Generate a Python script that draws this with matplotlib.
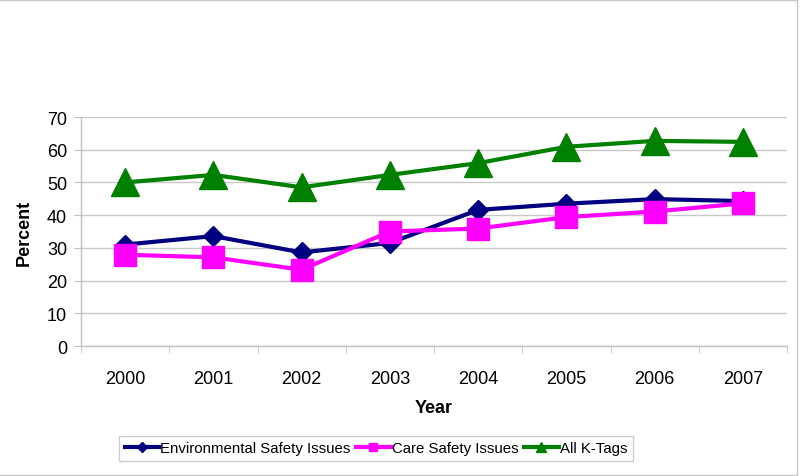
import matplotlib
matplotlib.use("Agg")
import matplotlib.pyplot as plt
from matplotlib.lines import Line2D
from matplotlib import font_manager
import numpy as np

plt.rcParams['font.family'] = ['Liberation Sans', 'DejaVu Sans']

years = ["2000", "2001", "2002", "2003", "2004", "2005", "2006", "2007"]
env_safety = [31.0, 33.6, 28.6, 31.5, 41.6, 43.5, 44.9, 44.3]
care_safety = [27.9, 27.1, 23.3, 35.0, 35.9, 39.4, 41.1, 43.6]
all_ktags = [50.0, 52.3, 48.5, 52.3, 55.9, 60.9, 62.7, 62.4]
yticks = [0, 10, 20, 30, 40, 50, 60, 70]

names = {f.name for f in font_manager.fontManager.ttflist}
legend_family = 'Liberation Sans Narrow' if 'Liberation Sans Narrow' in names else 'Liberation Sans'
legend_size = 12.5 if legend_family == 'Liberation Sans Narrow' else 10.8

fig = plt.figure(figsize=(8.0, 4.77), dpi=100)
ax = fig.add_axes([81/800, 1-347/477, (787-81)/800, (347-118)/477])

x = np.arange(len(years))
ax.plot(x, env_safety, color='#000080', lw=3, marker='D', ms=10.5, zorder=4,
        label='Environmental Safety Issues')
ax.plot(x, care_safety, color='#FF00FF', lw=3, marker='s', ms=16, zorder=5,
        label='Care Safety Issues')
ax.plot(x, all_ktags, color='#008000', lw=3, marker='^', ms=20, zorder=3,
        label='All K-Tags')

ax.set_xlim(-0.5, len(years)-0.5)
ax.set_ylim(0, 70)
ax.set_yticks(yticks)
ax.set_yticklabels([str(v) for v in yticks], fontsize=13)
ax.set_xticks(x)
ax.set_xticklabels(years, fontsize=13)
ax.set_xticks(np.arange(-0.5, len(years), 1.0), minor=True)
ax.tick_params(axis='x', which='major', length=0, pad=17)
ax.tick_params(axis='x', which='minor', length=5, color='#C0C0C0', direction='out')
ax.tick_params(axis='y', length=5, color='#C0C0C0', pad=5)

ax.grid(axis='y', color='#C8C8C8', lw=1)
ax.set_axisbelow(True)
for s in ['top', 'right']:
    ax.spines[s].set_visible(False)
for s in ['left', 'bottom']:
    ax.spines[s].set_color('#C0C0C0')
    ax.spines[s].set_linewidth(1)

ax.set_ylabel('Percent', fontsize=13, fontweight='bold', labelpad=10)
ax.set_xlabel('Year', fontsize=13, fontweight='bold', labelpad=9)

handles = [
    Line2D([], [], color='#000080', lw=3, marker='D', ms=5),
    Line2D([], [], color='#FF00FF', lw=3, marker='s', ms=6),
    Line2D([], [], color='#008000', lw=3, marker='^', ms=7),
]
labels = ['Environmental Safety Issues', 'Care Safety Issues', 'All K-Tags']
leg = fig.legend(handles, labels, loc='center', bbox_to_anchor=(376/800, 1-449.5/477),
                 ncol=3, frameon=True, fancybox=False,
                 prop={'family': legend_family, 'size': legend_size},
                 edgecolor='#C0C0C0', handlelength=2.3, handletextpad=0.1,
                 columnspacing=0.35, borderpad=0.35)
leg.get_frame().set_linewidth(1)

# figure border (top, right, bottom)
fig.add_artist(Line2D([0, 797/800], [1-0.5/477, 1-0.5/477], transform=fig.transFigure, color='#C8C8C8', lw=1))
fig.add_artist(Line2D([797/800, 797/800], [1-0.5/477, 1-476/477], transform=fig.transFigure, color='#C8C8C8', lw=1))
fig.add_artist(Line2D([0, 797/800], [1-476/477, 1-476/477], transform=fig.transFigure, color='#C8C8C8', lw=1))

fig.savefig('out.png', dpi=100)
